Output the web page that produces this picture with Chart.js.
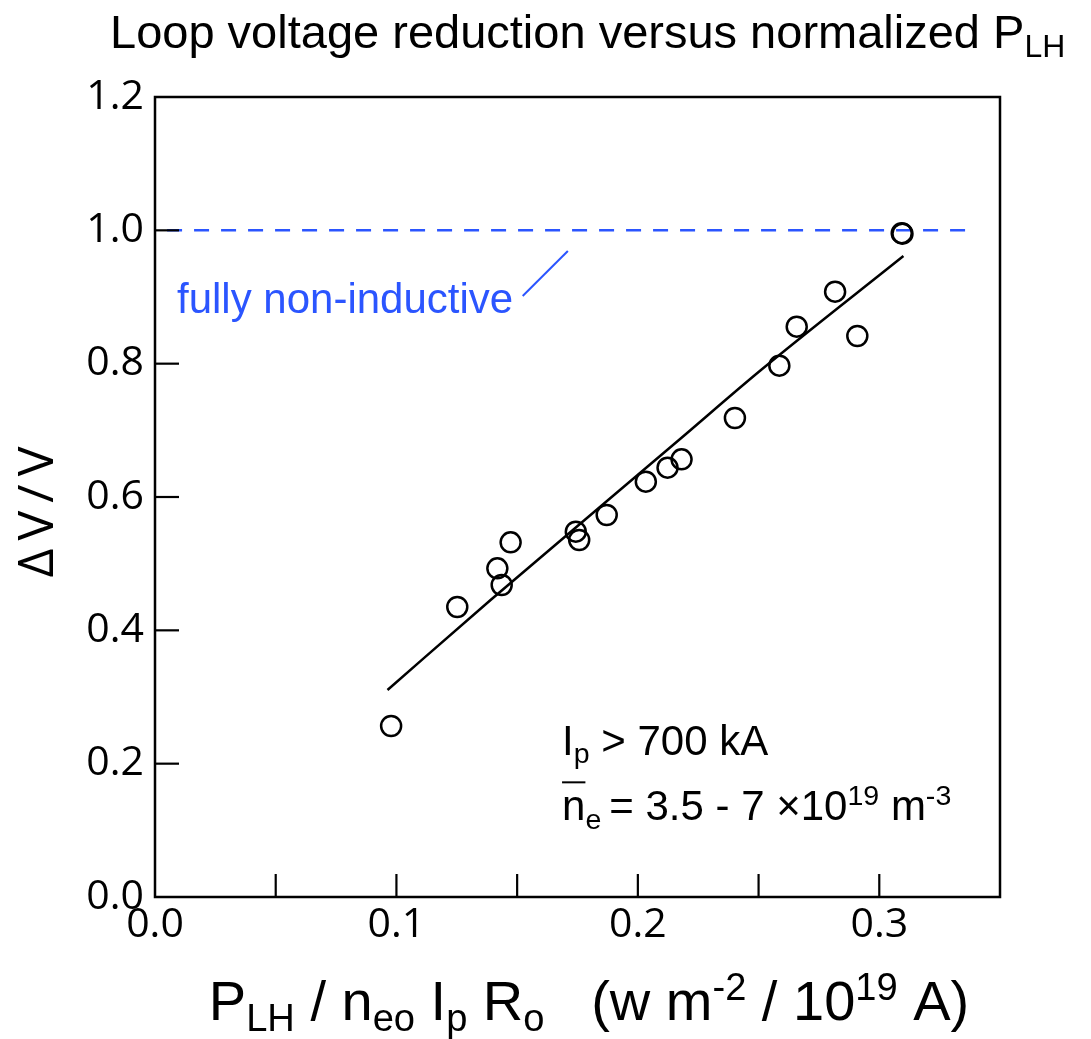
<!DOCTYPE html>
<html>
<head>
<meta charset="utf-8">
<script src="https://cdn.jsdelivr.net/npm/chart.js@4"></script>
<style>
html,body{margin:0;padding:0;background:#fff;}
#wrap{width:1091px;height:1039px;position:relative;}
</style>
</head>
<body>
<div id="wrap"><canvas id="c" width="1091" height="1039"></canvas></div>
<script>
// ---- data ----
const xVals = [0.0978, 0.1252, 0.1418, 0.1436, 0.1473, 0.1743, 0.1757, 0.1871, 0.2033, 0.2123, 0.2181, 0.2402, 0.2586, 0.2658, 0.2817, 0.2909, 0.3093, 0.3096];
const yVals = [0.2565, 0.435, 0.493, 0.468, 0.532, 0.548, 0.5355, 0.573, 0.623, 0.644, 0.6565, 0.7185, 0.797, 0.8555, 0.908, 0.8415, 0.9958, 0.9950];
const fitX = [0.0963, 0.139, 0.217, 0.251, 0.310];
const fitY = [0.3105, 0.4455, 0.6855, 0.7905, 0.9615];
const refX = [0.005, 0.340];
const refY = [1.0, 1.0];
const xTicks = [0.0, 0.1, 0.2, 0.3];
const yTicks = [0.0, 0.2, 0.4, 0.6, 0.8, 1.0, 1.2];

const pts = xVals.map((x,i)=>({x:x,y:yVals[i]}));
const fit = fitX.map((x,i)=>({x:x,y:fitY[i]}));
const ref = refX.map((x,i)=>({x:x,y:refY[i]}));

const BLUE = '#2b55ff';
const TICKFONT = '"Open Sans", "DejaVu Sans", sans-serif';
const TEXTFONT = '"Liberation Sans", Arial, sans-serif';

function drawRich(ctx, x, y, parts, size, family, color, align){
  ctx.save();
  ctx.fillStyle = color;
  ctx.textBaseline = 'alphabetic';
  ctx.textAlign = 'left';
  let total = 0;
  const widths = parts.map(p=>{
    const s = p[1] ? size*0.68 : size;
    ctx.font = s + 'px ' + family;
    const w = ctx.measureText(p[0]).width;
    total += w; return w;
  });
  let cx = align==='center' ? x - total/2 : x;
  parts.forEach((p,i)=>{
    const s = p[1] ? size*0.68 : size;
    ctx.font = s + 'px ' + family;
    let dy = 0;
    if (p[1]===1) dy = size*0.2;
    if (p[1]===2) dy = -size*0.36;
    ctx.fillText(p[0], cx, y+dy);
    cx += widths[i];
  });
  ctx.restore();
  return total;
}

const decor = {
  id:'decor',
  afterDraw(chart){
    const ctx = chart.ctx, a = chart.chartArea;
    const xs = chart.scales.x, ys = chart.scales.y;
    ctx.save();
    ctx.strokeStyle = '#000'; ctx.lineWidth = 2.5;
    ctx.strokeRect(a.left, a.top, a.right-a.left, a.bottom-a.top);
    ctx.lineWidth = 2.2;
    xs.ticks.forEach(t=>{
      const px = xs.getPixelForValue(t.value);
      if (px<=a.left+2 || px>=a.right-2) return;
      ctx.beginPath(); ctx.moveTo(px, a.bottom); ctx.lineTo(px, a.bottom-23); ctx.stroke();
    });
    ys.ticks.forEach(t=>{
      const py = ys.getPixelForValue(t.value);
      if (py<=a.top+2 || py>=a.bottom-2) return;
      ctx.beginPath(); ctx.moveTo(a.left, py); ctx.lineTo(a.left+24, py); ctx.stroke();
    });
    ctx.strokeStyle = BLUE; ctx.lineWidth = 2;
    ctx.beginPath();
    ctx.moveTo(xs.getPixelForValue(0.1523), ys.getPixelForValue(0.9015));
    ctx.lineTo(xs.getPixelForValue(0.171), ys.getPixelForValue(0.969));
    ctx.stroke();
    ctx.restore();

    drawRich(ctx, xs.getPixelForValue(0.0091), ys.getPixelForValue(0.876), [['fully non-inductive',0]], 42, TEXTFONT, BLUE);
    drawRich(ctx, xs.getPixelForValue(0.1686), ys.getPixelForValue(0.213), [['I',0],['p',1],[' > 700 kA',0]], 42, TEXTFONT, '#000');
    const nx = xs.getPixelForValue(0.1686), ny = ys.getPixelForValue(0.115);
    const w1 = drawRich(ctx, nx, ny, [['n',0],['e',1]], 42, TEXTFONT, '#000');
    ctx.save(); ctx.font = '42px '+TEXTFONT;
    const nw = ctx.measureText('n').width;
    ctx.strokeStyle='#000'; ctx.lineWidth=2;
    ctx.beginPath(); ctx.moveTo(nx, ny-38); ctx.lineTo(nx+nw, ny-38); ctx.stroke();
    ctx.restore();
    drawRich(ctx, nx+w1+8, ny, [['= 3.5 - 7 \u00d710',0],['19',2],[' m',0],['-3',2]], 42, TEXTFONT, '#000');

    drawRich(ctx, 110, 48, [['Loop voltage reduction versus normalized P',0],['LH',1]], 47, TEXTFONT, '#000');
    drawRich(ctx, 589, 1020, [['P',0],['LH',1],[' / n',0],['eo',1],[' I',0],['p',1],[' R',0],['o',1],['   (w m',0],['-2',2],[' / 10',0],['19',2],[' A)',0]], 56, TEXTFONT, '#000', 'center');
    ctx.save();
    ctx.translate(53, 512); ctx.rotate(-Math.PI/2);
    ctx.fillStyle='#000'; ctx.font = '50px '+TICKFONT; ctx.textAlign='center'; ctx.textBaseline='alphabetic';
    ctx.letterSpacing = '8px';
    ctx.fillText('\u0394V/V', 4, 0);
    ctx.restore();
  }
};

new Chart(document.getElementById('c'), {
  type:'scatter',
  data:{datasets:[
    {label:'ref', data:ref, showLine:true, borderColor:BLUE, borderWidth:2.5, borderDash:[15,12], pointRadius:0, fill:false, order:3},
    {label:'fit', data:fit, showLine:true, borderColor:'#000', borderWidth:2.5, pointRadius:0, tension:0.3, cubicInterpolationMode:'monotone', fill:false, order:2},
    {label:'data', data:pts, showLine:false, pointStyle:'circle', pointRadius:10, pointBorderWidth:2.5, pointBorderColor:'#000', pointBackgroundColor:'rgba(0,0,0,0)', order:1}
  ]},
  options:{
    responsive:false, animation:false, devicePixelRatio:1,
    layout:{padding:{left:0, top:97, right:91, bottom:0}},
    plugins:{legend:{display:false}, tooltip:{enabled:false}, title:{display:false}},
    scales:{
      x:{type:'linear', min:0, max:0.35,
        afterBuildTicks(s){ s.ticks = [0,0.05,0.1,0.15,0.2,0.25,0.3,0.35].map(v=>({value:v})); },
        afterFit(s){ s.height = 142; },
        grid:{display:false, drawTicks:false},
        border:{display:false},
        ticks:{autoSkip:false, maxRotation:0, padding:4, color:'#000', font:{family:TICKFONT, size:41},
          callback(v){ return xTicks.some(t=>Math.abs(t-v)<1e-6) ? Number(v).toFixed(1) : ''; }}
      },
      y:{type:'linear', min:0, max:1.2,
        afterBuildTicks(s){ s.ticks = yTicks.map(v=>({value:v})); },
        afterFit(s){ s.width = 155; },
        grid:{display:false, drawTicks:false},
        border:{display:false},
        ticks:{padding:11, color:'#000', font:{family:TICKFONT, size:41},
          callback(v){ return Number(v).toFixed(1); }}
      }
    }
  },
  plugins:[decor]
});
</script>
</body>
</html>
